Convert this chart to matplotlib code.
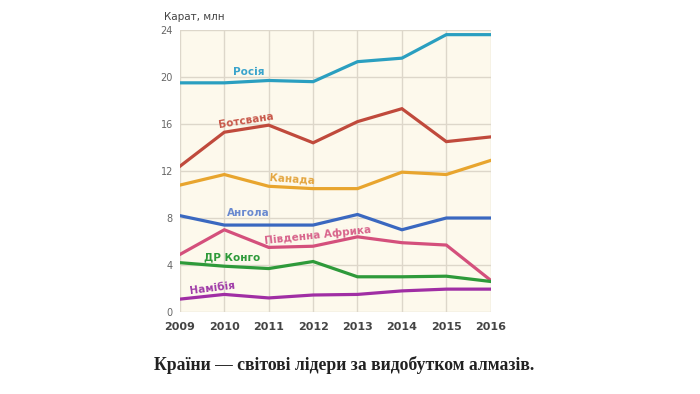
import numpy as np
import matplotlib
matplotlib.use("Agg")
import matplotlib.pyplot as plt

years = [2009, 2010, 2011, 2012, 2013, 2014, 2015, 2016]

russia = [19.5, 19.5, 19.7, 19.6, 21.3, 21.6, 23.6, 23.6]
botswana = [12.4, 15.3, 15.9, 14.4, 16.2, 17.3, 14.5, 14.9]
canada = [10.8, 11.7, 10.7, 10.5, 10.5, 11.9, 11.7, 12.9]
angola = [8.2, 7.4, 7.4, 7.4, 8.3, 7.0, 8.0, 8.0]
south_africa = [4.9, 7.0, 5.5, 5.6, 6.4, 5.9, 5.7, 2.7]
dr_congo = [4.2, 3.9, 3.7, 4.3, 3.0, 3.0, 3.05, 2.6]
namibia = [1.1, 1.5, 1.2, 1.45, 1.5, 1.8, 1.95, 1.95]

names = ["Росія", "Ботсвана", "Канада", "Ангола", "Південна Африка", "ДР Конго", "Намібія"]
yticks = [0, 4, 8, 12, 16, 20, 24]

series = [russia, botswana, canada, angola, south_africa, dr_congo, namibia]
colors = ["#2a9fc0", "#c04a3c", "#e8a52e", "#3a68c0", "#d4507c", "#2e9a3a", "#a02ea4"]
label_colors = ["#3aa4cc", "#c8584a", "#e4a640", "#6a8ad0", "#d8648c", "#2e9a3a", "#a03ca8"]
# label placement (x in years, y in data units, rotation)
label_pos = [(2010.55, 20.4, 0), (2010.5, 16.3, 9), (2011.52, 11.3, -4),
             (2010.55, 8.4, 0), (2012.1, 6.55, 6), (2010.17, 4.65, 0), (2009.72, 2.0, 7)]

fig = plt.figure(figsize=(7, 3.94), dpi=100)
ax = fig.add_axes([0.257, 0.208, 0.444, 0.716])
ax.set_facecolor("#fdf9ec")

for vals, c in zip(series, colors):
    ax.plot(years, vals, color=c, lw=2.3, solid_joinstyle="miter", zorder=3)

for name, (x, y, r), c in zip(names, label_pos, label_colors):
    ax.text(x, y, name, color=c, fontsize=7.5, fontweight="bold", rotation=r,
            ha="center", va="center", zorder=4)

ax.set_xlim(2009, 2016)
ax.set_ylim(0, 24)
ax.set_xticks(years)
ax.set_yticks(yticks)
ax.grid(True, color="#ddd7ca", lw=1)
ax.set_axisbelow(True)
for s in ax.spines.values():
    s.set_visible(False)
ax.tick_params(length=0)
ax.tick_params(axis="y", labelsize=7, labelcolor="#666666", pad=5)
ax.tick_params(axis="x", labelsize=8, labelcolor="#444444", pad=7)
for t in ax.get_xticklabels():
    t.set_fontweight("bold")

fig.text(0.234, 0.957, "Карат, млн", fontsize=7.5, color="#444444", ha="left", va="center")

fig.text(0.491, 0.074, "Країни — світові лідери за видобутком алмазів.",
         fontsize=12.7, fontweight="bold", family="Liberation Serif",
         color="#222222", ha="center", va="center")

fig.savefig("out.png", dpi=100)
